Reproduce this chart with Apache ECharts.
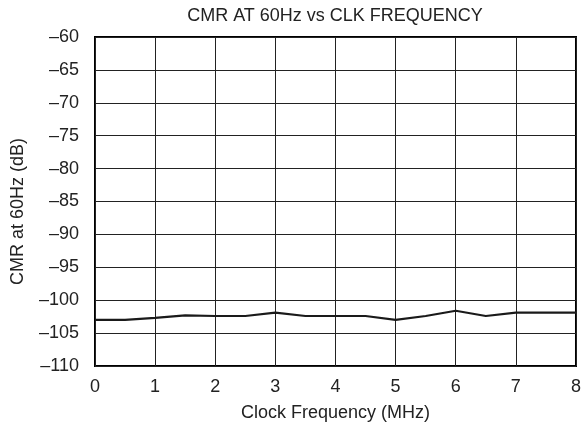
<!DOCTYPE html>
<html><head><meta charset="utf-8">
<script src="https://cdn.jsdelivr.net/npm/echarts@6/dist/echarts.min.js"></script>
<style>html,body{margin:0;padding:0;background:#fff}#c{width:584px;height:429px}</style>
</head><body><div id="c"></div>
<script>
const freqMHz = [0, 0.5, 1, 1.5, 2, 2.5, 3, 3.5, 4, 4.5, 5, 5.5, 6, 6.5, 7, 7.5, 8];
const cmrDb = [-103, -103, -102.7, -102.3, -102.4, -102.4, -101.9, -102.4, -102.4, -102.4, -103, -102.4, -101.6, -102.4, -101.9, -101.9, -101.9];
const titleText = 'CMR AT 60Hz vs CLK FREQUENCY';
const xName = 'Clock Frequency (MHz)';
const yName = 'CMR at 60Hz (dB)';

const chart = echarts.init(document.getElementById('c'), null, {renderer: 'canvas'});
const font = '"Liberation Sans", Arial, sans-serif';
const fs = 18;
chart.setOption({
  animation: false,
  backgroundColor: '#fff',
  title: {text: titleText, left: 330, top: 2, textAlign: 'center',
    textStyle: {fontFamily: font, fontSize: fs, fontWeight: 'normal', color: '#222'}},
  grid: {left: 95, right: 6, top: 37, bottom: 63, show: true, borderColor: '#000', borderWidth: 2, backgroundColor: 'transparent'},
  xAxis: {type: 'value', min: 0, max: 8, interval: 1,
    name: xName, nameLocation: 'middle', nameGap: 38,
    nameTextStyle: {fontFamily: font, fontSize: fs, color: '#222'},
    axisLine: {show: false}, axisTick: {show: false},
    axisLabel: {fontFamily: font, fontSize: fs, color: '#222', margin: 12},
    splitLine: {show: true, lineStyle: {color: '#222', width: 1}}},
  yAxis: {type: 'value', min: -110, max: -60, interval: 5,
    name: yName, nameLocation: 'middle', nameGap: 68, nameRotate: 90,
    nameTextStyle: {fontFamily: font, fontSize: fs, color: '#222', padding: [0, 20, 0, 0]},
    axisLine: {show: false}, axisTick: {show: false},
    axisLabel: {fontFamily: font, fontSize: fs, color: '#222', margin: 16,
      formatter: v => String(v).replace('-', '\u2013')},
    splitLine: {show: true, lineStyle: {color: '#222', width: 1}}},
  series: [{type: 'line', data: freqMHz.map((x, i) => [x, cmrDb[i]]),
    showSymbol: false, lineStyle: {color: '#1a1a1a', width: 2.2}}]
});
</script></body></html>
